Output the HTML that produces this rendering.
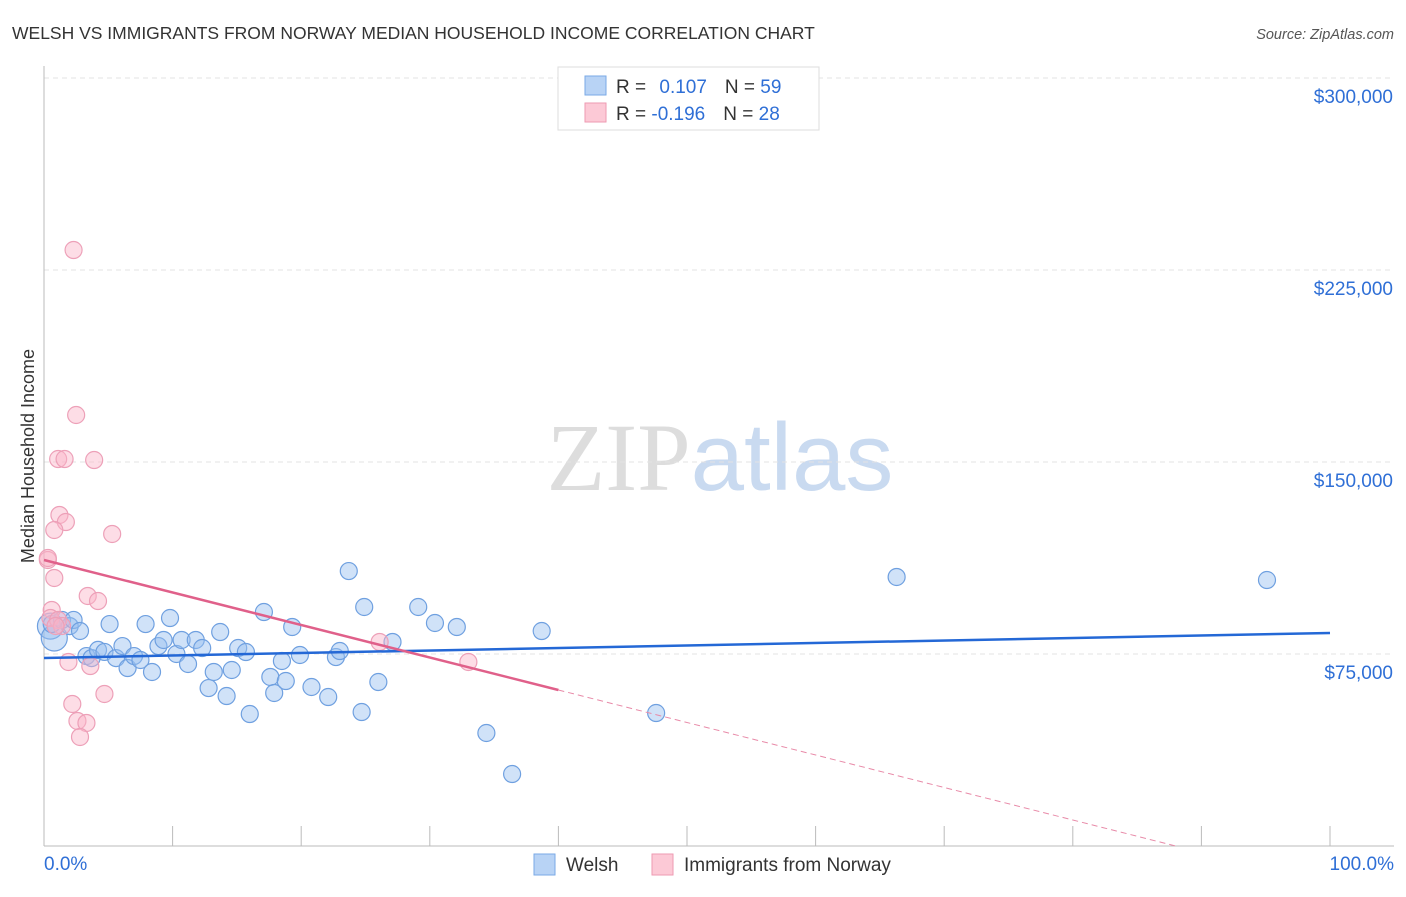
<!DOCTYPE html>
<html><head><meta charset="utf-8"><style>
body{margin:0;background:#fff;font-family:"Liberation Sans",sans-serif}
svg text{font-family:"Liberation Sans",sans-serif}
</style></head><body>
<svg id="chart" width="1406" height="892" viewBox="0 0 1406 892" xmlns="http://www.w3.org/2000/svg">
<text x="12" y="39" font-size="17.5" fill="#333">WELSH VS IMMIGRANTS FROM NORWAY MEDIAN HOUSEHOLD INCOME CORRELATION CHART</text>
<text x="1394" y="39" font-size="14.5" fill="#555" text-anchor="end" font-style="italic">Source: ZipAtlas.com</text>
<text x="720" y="490" font-size="96" text-anchor="middle"><tspan fill="#ddd" font-family="Liberation Serif">ZIP</tspan><tspan fill="#c9daf0">atlas</tspan></text>
<g id="grid"></g>
<g id="axes"></g>
<text transform="translate(34,456) rotate(-90)" font-size="18" fill="#333" text-anchor="middle">Median Household Income</text>
<g id="points"></g>
<g id="trends"></g>
<g>
<rect x="558" y="67" width="261" height="63" fill="#fff" stroke="#ddd"/>
<rect x="585" y="76" width="21" height="19" fill="#b8d3f5" stroke="#7aaae6"/>
<rect x="585" y="103" width="21" height="19" fill="#fcc9d6" stroke="#ee9ab2"/>
<text x="616" y="93" font-size="19" fill="#333">R = <tspan fill="#2f6fd6" dx="8">0.107</tspan><tspan fill="#333" dx="18">N = </tspan><tspan fill="#2f6fd6">59</tspan></text>
<text x="616" y="120" font-size="19" fill="#333">R = <tspan fill="#2f6fd6">-0.196</tspan><tspan fill="#333" dx="18">N = </tspan><tspan fill="#2f6fd6">28</tspan></text>
</g>
<g>
<rect x="534" y="854" width="21" height="21" fill="#b8d3f5" stroke="#7aaae6"/>
<text x="566" y="871" font-size="19" fill="#333">Welsh</text>
<rect x="652" y="854" width="21" height="21" fill="#fcc9d6" stroke="#ee9ab2"/>
<text x="684" y="871" font-size="19" fill="#333">Immigrants from Norway</text>
</g>
</svg>
<script>
const yTicks=[75000,150000,225000,300000];
const yTickLabels=["$75,000","$150,000","$225,000","$300,000"];
const xTickLabels=["0.0%","100.0%"];
const welshX=[0.5,0.8,0.6,1.4,2.0,2.3,2.8,3.3,3.7,4.2,4.7,5.1,5.6,6.1,6.5,7.0,7.5,7.9,8.4,8.9,9.3,9.8,10.3,10.7,11.2,11.8,12.3,12.8,13.2,13.7,14.2,14.6,15.1,15.7,16.0,17.1,17.6,17.9,18.5,18.8,19.3,19.9,20.8,22.1,22.7,23.0,23.7,24.7,24.9,26.0,27.1,29.1,30.4,32.1,34.4,36.4,38.7,47.6,66.3,95.1];
const welshY=[85900,81250,86700,88300,85900,88300,83990,74200,73400,76600,75800,86700,73400,78100,69530,74200,72660,86700,67970,78100,80470,89060,75000,80470,71100,80470,77340,61700,67970,83590,58590,68750,77340,75780,51560,91400,66020,59770,72270,64450,85550,74610,62110,58200,73800,76170,107400,52340,93360,64060,79690,93360,87110,85550,44140,28120,83980,51950,105080,103900];
const norwayX=[2.3,2.5,1.1,1.6,3.9,5.3,1.2,1.7,0.8,0.3,0.8,0.6,3.4,4.2,0.5,1.1,1.4,1.9,3.6,4.7,2.2,2.6,3.3,2.8,26.1,33.0,0.3,0.9];
const norwayY=[232810,168360,151170,151170,150780,121880,129300,126560,123440,111720,104690,92190,97660,95700,89060,88280,85940,71880,70310,59380,55470,48830,48050,42580,79690,71880,112500,85940];
const welshTrend=[73438,83203];
const norwayTrend=[111719,-1269.5];
const X0=44,X1=1330,YB=846,PPV=192/75000;
const xs=p=>X0+p/100*(X1-X0);
const ys=v=>YB-v*PPV;
const NS="http://www.w3.org/2000/svg";
function mk(parent,tag,attrs){const e=document.createElementNS(NS,tag);for(const k in attrs)e.setAttribute(k,attrs[k]);document.getElementById(parent).appendChild(e);return e;}
yTicks.forEach((t,i)=>{
 const l=mk('grid','line',{x1:44,x2:1394,y1:ys(t),y2:ys(t),stroke:'#e3e3e3','stroke-dasharray':'5,4'});
 
 
 const tx=mk('axes','text',{x:1393,y:ys(t)+25,'font-size':19,fill:'#2f6fd6','text-anchor':'end'});
 tx.textContent=yTickLabels[i];
 
 
});
const ya=mk('axes','line',{x1:44,x2:44,y1:66,y2:846,stroke:'#bbb'});


const xa=mk('axes','line',{x1:44,x2:1394,y1:846,y2:846,stroke:'#bbb'});


for(let i=0;i<=10;i++){
 const t=mk('axes','line',{x1:xs(i*10),x2:xs(i*10),y1:826,y2:846,stroke:'#bbb'});
 
 
}
const xl0=mk('axes','text',{x:44,y:870,'font-size':19,fill:'#2f6fd6'});xl0.textContent=xTickLabels[0];


const xl1=mk('axes','text',{x:1394,y:870,'font-size':19,fill:'#2f6fd6','text-anchor':'end'});xl1.textContent=xTickLabels[1];


welshX.forEach((x,i)=>{
 const c=mk('points','circle',{cx:xs(x),cy:ys(welshY[i]),r:i<2?13:8.5,fill:'rgba(150,190,240,0.45)',stroke:'#6fa0e0','stroke-width':1.2});
 
 
});
norwayX.forEach((x,i)=>{
 const c=mk('points','circle',{cx:xs(x),cy:ys(norwayY[i]),r:8.5,fill:'rgba(250,180,200,0.45)',stroke:'#eda0b8','stroke-width':1.2});
 
 
});
const wt=mk('trends','line',{x1:xs(0),y1:ys(welshTrend[0]),x2:xs(100),y2:ys(welshTrend[1]),stroke:'#2468d6','stroke-width':2.5});


const nv=p=>norwayTrend[0]+norwayTrend[1]*p;
const nt=mk('trends','line',{x1:xs(0),y1:ys(nv(0)),x2:xs(40),y2:ys(nv(40)),stroke:'#e0608a','stroke-width':2.5});


const pEnd=-norwayTrend[0]/norwayTrend[1];
const nd=mk('trends','line',{x1:xs(40),y1:ys(nv(40)),x2:xs(pEnd),y2:ys(0),stroke:'#e88aa8','stroke-width':1,'stroke-dasharray':'6,4'});


</script>
</body></html>
